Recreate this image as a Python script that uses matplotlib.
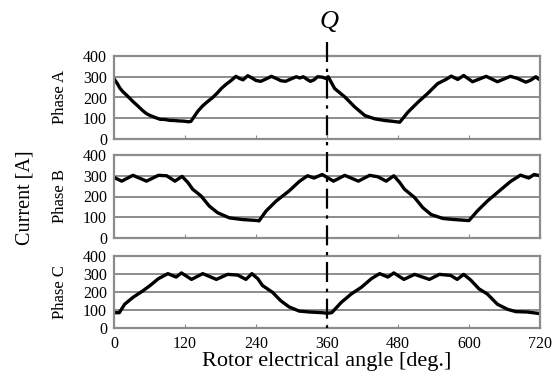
import matplotlib
matplotlib.use("Agg")
import matplotlib.pyplot as plt
from matplotlib.lines import Line2D
from matplotlib.transforms import blended_transform_factory

plt.rcParams["font.family"] = ["Liberation Serif", "DejaVu Serif"]

# Phase currents (angle in electrical deg, current in A)
PHASE_A_DEG = [0, 5, 10, 15, 21, 27, 33, 40, 48, 55, 62, 70, 78, 86, 94, 102,
               110, 118, 126, 130, 136, 142, 150, 158, 166, 174, 182, 190, 198,
               206, 212, 218, 226, 232, 240, 248, 256, 266, 274, 282, 290, 298,
               308, 314, 320, 326, 332, 338, 344, 352, 358, 362,
               373, 390, 407, 424, 441, 458, 469, 483, 497, 514, 530, 547, 561,
               570, 581, 591, 606, 629, 648, 670, 682, 696, 704, 713, 718, 720]
PHASE_A_CUR = [290, 270, 245, 228, 212, 195, 178, 160, 138, 122, 112, 103, 95, 94,
               90, 89, 87, 86, 83, 85, 110, 135, 160, 180, 198, 220, 245, 265, 282,
               302, 292, 285, 305, 296, 282, 278, 288, 302, 292, 281, 278, 288,
               300, 294, 300, 288, 278, 285, 300, 298, 292, 300,
               243, 203, 154, 113, 97, 89, 86, 81, 130, 178, 219, 267, 287,
               303, 287, 306, 276, 302, 276, 302, 292, 274, 283, 300, 288, 292]

PHASE_B_DEG = [0, 13, 32, 55, 75, 89, 103, 115, 125, 133, 147, 161, 175, 195,
               217, 243, 245, 257, 274, 296, 313, 327, 338, 352, 360,
               371, 390, 413, 432, 446, 460, 473, 483, 491, 508, 522, 536, 556,
               575, 600, 614, 631, 648, 670, 687, 701, 710, 720]
PHASE_B_CUR = [292, 274, 302, 274, 302, 300, 274, 297, 267, 235, 203, 154, 122, 97,
               89, 84, 82, 130, 178, 227, 272, 300, 289, 306, 292,
               274, 302, 274, 302, 295, 274, 300, 267, 235, 195, 146, 113, 94,
               89, 84, 130, 178, 219, 272, 303, 289, 306, 300]

PHASE_C_DEG = [0, 9, 18, 32, 49, 61, 75, 91, 105, 114, 131, 150, 173, 192, 209,
               223, 233, 243, 251, 268, 282, 296, 313, 330, 352, 360,
               368, 384, 401, 418, 435, 449, 463, 473, 490, 508, 533, 550, 569,
               580, 591, 603, 617, 631, 648, 665, 679, 698, 715, 720]
PHASE_C_CUR = [85, 85, 132, 170, 207, 236, 274, 302, 283, 306, 270, 302, 270, 298,
               294, 270, 302, 274, 236, 198, 151, 117, 94, 89, 85, 82,
               85, 142, 189, 226, 274, 302, 283, 306, 270, 298, 270, 298, 292,
               270, 298, 266, 217, 189, 132, 104, 91, 89, 82, 80]

PHASES = [("Phase A", PHASE_A_DEG, PHASE_A_CUR),
          ("Phase B", PHASE_B_DEG, PHASE_B_CUR),
          ("Phase C", PHASE_C_DEG, PHASE_C_CUR)]
X_TICKS = [0, 120, 240, 360, 480, 600, 720]
Y_TICKS = [0, 100, 200, 300, 400]
Q_ANGLE = 360

W, H = 558, 378
fig = plt.figure(figsize=(W / 100, H / 100), dpi=100)

# panel boxes in pixels: (top, bottom)
boxes = [(56, 139), (155, 238), (256, 328)]
left_px, right_px = 114, 540
grid_col = "#8c8c8c"

axes = []
for (top, bot), (name, xs, ys) in zip(boxes, PHASES):
    ax = fig.add_axes([left_px / W, 1 - bot / H, (right_px - left_px) / W,
                       (bot - top) / H])
    ax.plot(xs, ys, color="black", linewidth=2.4, solid_joinstyle="round")
    ax.set_xlim(0, 720)
    ax.set_ylim(0, 400)
    ax.set_yticks(Y_TICKS)
    ax.set_xticks(X_TICKS)
    for y in Y_TICKS[1:-1]:
        ax.axhline(y, color=grid_col, linewidth=1.4, zorder=0)
    for s in ax.spines.values():
        s.set_color(grid_col)
        s.set_linewidth(1.6)
    ax.tick_params(axis="y", length=0, pad=5, labelsize=11.5)
    ax.tick_params(axis="x", direction="in", length=3, color=grid_col,
                   labelsize=11.5, pad=6)
    ax.set_ylabel(name, fontsize=12)
    ax.yaxis.set_label_coords(-0.108, 0.5)
    if name != "Phase C":
        ax.tick_params(axis="x", labelbottom=False)
    axes.append(ax)

axes[-1].set_xlabel("Rotor electrical angle [deg.]", fontsize=16, labelpad=0)
fig.text(25 / W, 1 - 198 / H, "Current [A]", rotation=90, fontsize=14.5,
         ha="center", va="center")

# dash-dot marker at Q spanning all panels
tr = blended_transform_factory(axes[0].transData, fig.transFigure)
fig.add_artist(Line2D([Q_ANGLE, Q_ANGLE], [1 - 42 / H, 1 - 328 / H],
                      transform=tr, color="black", linewidth=1.6,
                      linestyle=(0, (9, 3, 1.5, 3))))
fig.text(Q_ANGLE + 3, 1 - 22 / H, "Q", transform=tr, fontsize=19,
         style="italic", ha="center", va="center")

fig.savefig("out.png", dpi=100)
